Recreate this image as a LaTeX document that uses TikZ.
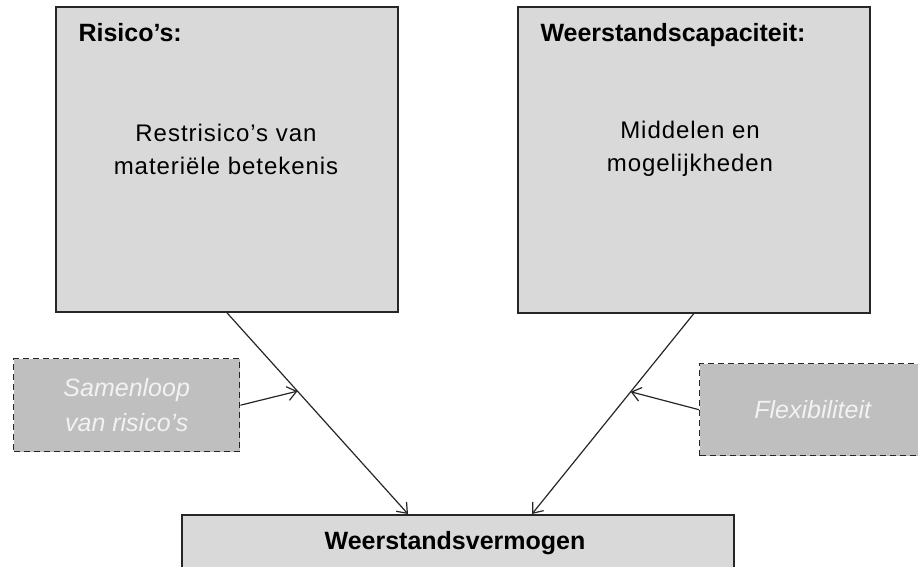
\documentclass[tikz,border=0pt]{standalone}
\usepackage{fontspec}
\setmainfont{Liberation Sans}
\newfontfamily\spacedfamily[LetterSpace=4]{Liberation Sans}
\usetikzlibrary{arrows.meta}
\definecolor{boxgray}{HTML}{D9D9D9}
\definecolor{dashgray}{HTML}{BFBFBF}
\definecolor{linegray}{HTML}{262626}
\newcommand{\headfont}{\fontsize{25}{30}\selectfont\bfseries}
\newcommand{\bodyfont}{\spacedfamily\fontsize{24}{33}\selectfont}

\begin{document}
\begin{tikzpicture}[x=1pt,y=-1pt,
	mainbox/.style={draw=linegray, line width=1.6pt, fill=boxgray, anchor=north west, inner sep=0pt},
	sidebox/.style={draw=linegray, line width=1.4pt, dash pattern=on 6pt off 4pt, fill=dashgray,
		anchor=north west, inner sep=0pt, minimum width=226, text=white!95!black,
		font=\fontsize{25}{35}\selectfont\itshape, align=center},
	pijl/.style={draw=linegray, line width=1.2pt, -{Straight Barb[length=9pt,width=14pt]}}]
	\useasboundingbox (0,0) rectangle (918,567);

	% bovenste blokken
	\node[mainbox, minimum width=342, minimum height=305] (risk) at (55,6) {};
	\node[mainbox, minimum width=352, minimum height=306] (cap) at (517,6) {};
	\node[anchor=base west, font=\headfont] (riskhead) at (75,42) {Risico’s:};
	\node[anchor=base west, font=\headfont] (caphead) at (537,42) {Weerstandscapaciteit:};
	\node[align=center, font=\bodyfont] (risktext) at (226,149) {Restrisico’s van\\materiële betekenis};
	\node[align=center, font=\bodyfont] (captext) at (690,149) {Middelen en\\mogelijkheden};

	% onderste blok
	\node[mainbox, minimum width=552, minimum height=80] (verm) at (181,514) {};
	\node[anchor=base, font=\headfont] (vermtext) at (455,549) {Weerstandsvermogen};

	% gestippelde blokken
	\node[sidebox, minimum height=93] (samen) at (13,358) {Samenloop\\van risico’s};
	\node[sidebox, minimum height=92] (flex) at (699,363) {Flexibiliteit};

	% pijlen
	\coordinate (lin) at (408,514);
	\coordinate (rin) at (532,514);
	\draw[pijl] (risk.south) -- coordinate[pos=0.39] (lhit) (lin);
	\draw[pijl] (cap.south) -- coordinate[pos=0.39] (rhit) (rin);
	\draw[pijl] (samen.east) -- (lhit);
	\draw[pijl] (flex.west) -- (rhit);
\end{tikzpicture}
\end{document}
